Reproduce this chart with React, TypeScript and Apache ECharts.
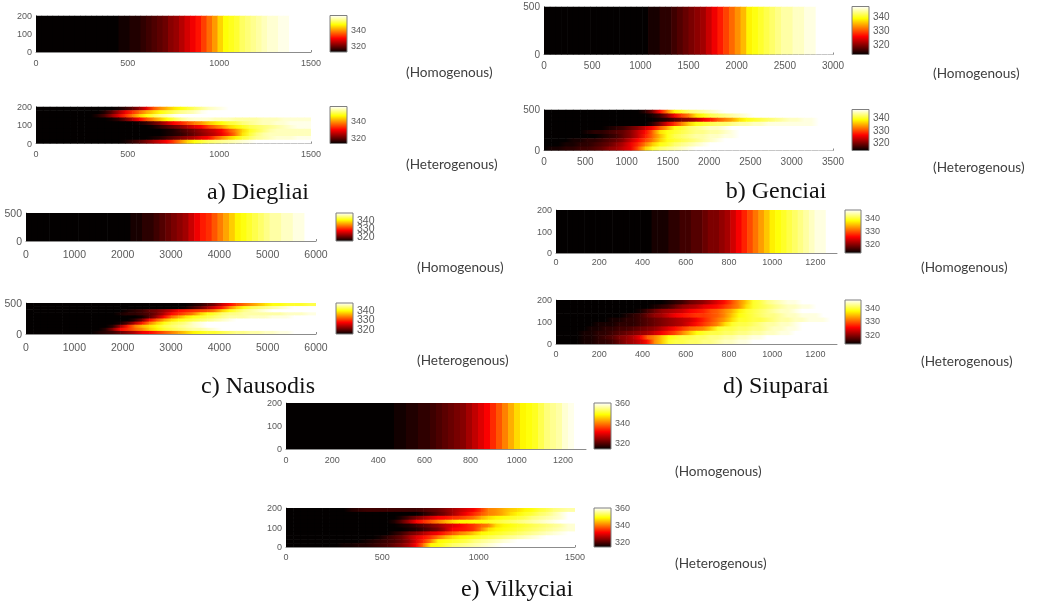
import React, { useEffect, useRef } from "react";
import * as echarts from "echarts";

// ---------- Values (temperatures; rows run top to bottom) ----------
const diegliaiHomogenous = [[313,313,313,313,313,313,313,313,313,313,313,313,313,313,313,314,314,315,315,316,317,318,319,320,322,323,325,327,329,331,334,337,340,344,347,348,349,351,352,353,354,355,356,356,357,357,358,358,358,358]];
const genciaiHomogenous = [[313,313,313,313,313,313,313,313,313,313,313,313,313,313,313,313,313,313,314,314,315,315,316,317,318,319,320,321,323,325,327,329,331,333,335,338,339,340,341,342,343,344,344,345,345,346,346,347,347,347]];
const nausodisHomogenous = [[314,314,314,314,314,314,314,314,314,314,314,314,314,314,314,314,314,314,315,315,316,316,317,318,319,320,321,322,324,326,328,329,331,333,335,337,339,340,341,342,343,344,345,345,346,346,347,347,348,348]];
const siuparaiHomogenous = [[313,313,313,313,313,313,313,313,313,313,313,313,313,313,313,313,313,314,314,314,315,315,316,316,317,317,318,319,319,320,321,323,325,327,329,331,333,335,337,338,339,340,341,342,343,344,345,345,346,346]];
const vilkyciaiHomogenous = [[314,314,314,314,314,314,314,314,314,314,314,314,314,314,314,314,314,314,315,315,316,316,317,317,318,319,320,321,322,323,325,327,329,331,334,337,340,343,346,348,349,350,352,354,355,356,358,359,360,360]];

const diegliaiHeterogenous = [
  [313,313,313,313,313,313,313,313,313,313,313,313,314,316,319,323,328,335,339,342,345,347,349,351,353,355,356,357,358,358,358,358,358,358,358,358,358,358,358,358],
  [313,313,313,313,313,313,313,313,313,313,315,319,324,329,333,337,341,344,347,349,351,353,354,355,357,358,358,358,358,358,358,358,358,358,358,358,358,358,358,358],
  [313,313,313,313,313,313,313,313,313,315,318,323,328,333,338,343,347,350,353,355,357,358,358,358,358,358,358,358,358,358,358,358,358,358,358,358,358,358,358,358],
  [313,313,313,313,313,313,313,313,313,313,313,314,316,320,325,330,335,339,343,347,350,353,355,356,356,356,355,355,355,354,354,354,354,355,355,355,356,356,356,356],
  [313,313,313,313,313,313,313,313,313,313,313,313,313,313,313,314,316,319,322,326,330,332,335,338,340,343,345,347,349,350,352,353,354,355,355,356,356,357,357,357],
  [313,313,313,313,313,313,313,313,313,313,313,313,313,313,313,313,313,314,316,318,320,322,325,328,330,334,337,340,344,346,348,350,351,352,353,354,355,356,357,357],
  [313,313,313,313,313,313,313,313,313,313,313,313,313,313,313,313,313,313,313,314,315,317,319,321,323,325,327,330,335,339,344,348,350,352,354,355,355,355,355,355],
  [313,313,313,313,313,313,313,313,313,313,313,313,313,313,313,313,313,313,313,314,315,316,318,320,322,324,326,329,333,338,345,349,352,354,355,355,355,355,355,355],
  [313,313,313,313,313,313,313,313,313,313,313,313,313,313,313,313,313,314,315,317,319,321,323,325,328,330,335,339,343,346,349,351,353,354,355,356,356,356,357,357],
  [313,313,313,313,313,313,313,313,313,313,313,313,313,314,316,318,321,324,327,330,334,339,344,347,349,351,352,353,354,355,356,357,358,358,358,358,358,358,358,358],
];
const genciaiHeterogenous = [
  [313,313,313,313,313,313,313,313,313,313,313,313,313,313,315,319,326,332,338,340,342,343,344,345,346,347,347,347,347,347,347,347,347,347,347,347,347,347,347,347],
  [313,313,313,313,313,313,313,313,313,313,313,313,313,313,313,314,316,320,325,329,332,337,339,341,342,343,344,345,346,347,347,347,347,347,347,347,347,347,347,347],
  [313,313,313,313,313,313,313,313,313,313,313,313,313,313,313,313,314,315,317,319,320,322,325,327,330,332,334,337,339,340,341,342,343,344,345,345,346,346,347,347],
  [313,313,313,313,313,313,313,313,313,313,313,313,313,313,313,315,319,324,328,332,336,339,340,341,342,342,343,344,344,345,345,346,346,346,346,346,346,346,347,347],
  [313,313,313,313,313,313,313,313,313,314,315,316,318,320,323,326,330,334,339,340,342,343,344,345,345,346,347,347,347,347,347,347,347,347,347,347,347,347,347,347],
  [313,313,313,313,313,313,314,315,315,316,317,318,320,323,326,331,337,339,340,341,342,343,343,344,344,345,346,347,347,347,347,347,347,347,347,347,347,347,347,347],
  [313,313,313,313,313,313,313,313,314,315,316,318,320,323,327,331,335,339,341,342,343,344,344,345,345,346,346,347,347,347,347,347,347,347,347,347,347,347,347,347],
  [313,313,313,313,314,314,315,315,316,317,318,320,323,326,329,332,336,339,340,341,342,343,344,345,346,347,347,347,347,347,347,347,347,347,347,347,347,347,347,347],
  [313,313,313,314,314,315,315,316,317,318,320,322,325,328,332,336,339,340,342,343,344,345,346,347,347,347,347,347,347,347,347,347,347,347,347,347,347,347,347,347],
  [313,314,314,315,315,316,316,317,318,320,321,323,325,330,336,340,342,343,344,345,346,347,347,347,347,347,347,347,347,347,347,347,347,347,347,347,347,347,347,347],
];
const nausodisHeterogenous = [
  [314,314,314,314,314,314,314,314,314,314,314,314,314,314,314,314,314,314,314,314,314,314,314,315,316,318,320,324,327,330,332,334,336,338,340,340,341,341,341,342],
  [314,314,314,314,314,314,314,314,314,314,314,314,314,314,314,314,314,314,314,314,314,314,315,317,319,322,325,328,333,337,340,342,343,344,345,346,347,348,348,348],
  [314,314,314,314,314,314,314,314,314,314,314,314,314,314,315,316,317,319,320,322,324,327,328,329,330,331,333,337,340,342,344,345,346,347,348,348,348,348,348,348],
  [314,314,314,314,314,314,314,314,314,314,314,314,314,315,316,316,317,318,320,323,327,329,331,333,337,340,341,343,344,344,345,345,345,345,345,345,346,346,346,347],
  [314,314,314,314,314,314,314,314,314,314,314,314,314,314,314,314,315,318,322,327,332,335,338,340,341,342,343,344,345,345,345,346,346,346,347,347,347,348,348,348],
  [314,314,314,314,314,314,314,314,314,314,314,314,314,314,314,316,320,327,331,335,338,340,341,342,343,344,345,346,347,348,348,348,348,348,348,348,348,348,348,348],
  [314,314,314,314,314,314,314,314,314,314,314,314,314,315,318,323,328,333,337,340,342,343,344,346,347,348,348,348,348,348,348,348,348,348,348,348,348,348,348,348],
  [314,314,314,314,314,314,314,314,314,314,314,314,316,322,328,333,336,338,340,342,343,344,345,346,347,348,348,348,348,348,348,348,348,348,348,348,348,348,348,348],
  [314,314,314,314,314,314,314,314,314,314,314,316,321,327,329,332,334,337,339,341,342,343,344,345,345,346,347,348,348,348,348,348,348,348,348,348,348,348,348,348],
  [314,314,314,314,314,314,314,314,314,314,315,316,317,319,321,323,326,327,329,331,333,335,337,339,340,341,341,342,343,344,344,345,345,346,346,347,347,348,348,348],
];
const siuparaiHeterogenous = [
  [313,313,313,313,313,313,313,313,313,313,313,313,313,313,313,313,314,315,316,318,319,320,322,324,326,329,332,335,339,340,342,343,344,345,345,346,346,346,346,346],
  [313,313,313,313,313,313,313,313,313,313,313,313,313,313,314,315,316,318,320,321,322,324,325,326,328,330,332,336,339,340,341,342,343,344,344,345,345,346,346,346],
  [313,313,313,313,313,313,313,313,313,313,313,313,314,316,318,320,321,322,323,325,326,327,329,330,332,334,337,339,340,341,342,343,344,344,345,346,346,346,346,346],
  [313,313,313,313,313,313,313,313,313,313,314,315,316,318,320,321,323,325,326,327,328,328,329,330,332,335,338,339,340,341,342,342,343,344,344,345,345,345,346,346],
  [313,313,313,313,313,313,313,313,314,314,315,315,316,317,318,319,320,321,322,323,325,327,329,331,333,336,339,339,340,340,341,342,343,343,344,344,345,345,345,346],
  [313,313,313,313,313,313,314,314,314,315,315,315,316,317,318,319,320,321,322,324,326,328,330,332,336,339,340,340,341,342,343,343,344,344,345,346,346,346,346,346],
  [313,313,313,313,313,314,314,315,315,316,316,317,318,319,320,322,324,326,328,330,331,332,335,339,340,340,341,341,342,342,343,344,344,345,345,346,346,346,346,346],
  [313,313,313,313,314,314,315,315,316,317,318,319,320,321,323,325,327,329,332,335,338,339,340,340,341,341,342,342,343,343,344,344,345,345,346,346,346,346,346,346],
  [313,313,313,313,314,314,315,316,317,319,320,322,325,330,332,335,338,339,340,340,341,341,342,342,343,343,344,344,345,345,346,346,346,346,346,346,346,346,346,346],
  [313,313,313,313,314,314,315,315,316,318,320,321,323,326,332,335,339,340,340,341,341,342,342,343,344,344,345,345,346,346,346,346,346,346,346,346,346,346,346,346],
];
const vilkyciaiHeterogenous = [
  [314,314,314,314,314,314,314,314,314,316,317,318,318,318,318,318,318,318,318,319,320,321,323,325,327,329,331,335,340,341,343,345,346,348,349,351,352,354,355,356],
  [314,314,314,314,314,314,314,314,314,314,314,314,314,314,314,314,314,314,314,316,318,320,322,325,328,331,334,337,340,341,343,346,348,350,351,353,354,356,358,360],
  [314,314,314,314,314,314,314,314,314,314,314,314,314,314,314,314,316,319,322,325,328,331,332,334,335,337,339,343,346,348,349,350,351,352,354,355,356,357,358,360],
  [314,314,314,314,314,314,314,314,314,314,314,314,314,314,314,316,320,325,331,334,337,340,343,346,348,348,349,349,350,351,352,353,354,355,356,357,358,359,360,360],
  [314,314,314,314,314,314,314,314,314,314,314,314,314,314,314,314,315,316,318,320,322,324,327,329,331,333,335,338,340,346,348,349,350,351,352,353,354,355,356,358],
  [314,314,314,314,314,314,314,314,314,314,314,314,314,314,314,314,314,315,316,318,320,322,326,331,332,333,335,340,346,348,349,350,351,352,353,354,355,356,357,358],
  [314,314,314,314,314,314,314,314,314,314,314,314,314,314,314,316,318,321,323,326,329,331,334,337,340,342,345,348,349,350,351,352,353,354,355,356,357,358,359,360],
  [314,314,314,314,314,314,314,314,314,314,314,314,314,315,317,319,321,325,329,332,335,339,343,346,348,349,350,351,352,353,354,355,356,357,358,359,360,360,360,360],
  [314,314,314,314,314,314,314,314,314,314,314,315,316,317,318,319,321,324,329,334,340,348,349,350,351,352,354,355,356,357,358,359,360,360,360,360,360,360,360,360],
  [314,314,314,314,314,314,314,314,315,315,316,316,317,318,319,321,323,326,331,339,348,349,351,353,354,355,356,357,358,359,360,360,360,360,360,360,360,360,360,360],
];

const homogenousLabel = "(Homogenous)";
const heterogenousLabel = "(Heterogenous)";
const sansFont = "Liberation Sans";
const hotStops = [
  { offset: 0, color: "#030000" },
  { offset: 0.375, color: "#ff0000" },
  { offset: 0.75, color: "#ffff00" },
  { offset: 1, color: "#ffffff" },
];

type Panel = {
  rows: number[][]; xMax: number; xTick: number; yMax: number; yTick: number;
  left: number; right: number; top: number; bottom: number; barLeft: number; barRight: number;
  min: number; max: number; barTicks: number[]; size: number; labelGap: number; stepped: boolean; extraBarTicks?: number[];
};

const panels: Panel[] = [
  { rows: diegliaiHomogenous, stepped: true, xMax: 1500, xTick: 500, yMax: 200, yTick: 100, left: 36, right: 311, top: 15.5, bottom: 52, barLeft: 330, barRight: 347, min: 313, max: 358, barTicks: [320, 340], size: 9, labelGap: 6 },
  { rows: diegliaiHeterogenous, stepped: false, xMax: 1500, xTick: 500, yMax: 200, yTick: 100, left: 36, right: 311, top: 106.5, bottom: 143.5, barLeft: 330, barRight: 347, min: 313, max: 358, barTicks: [320, 340], size: 9, labelGap: 6 },
  { rows: genciaiHomogenous, stepped: true, xMax: 3000, xTick: 500, yMax: 500, yTick: 500, left: 544, right: 833, top: 6.5, bottom: 54.5, barLeft: 852, barRight: 869, min: 313, max: 347, barTicks: [320, 330, 340], size: 10, labelGap: 6 },
  { rows: genciaiHeterogenous, stepped: false, xMax: 3500, xTick: 500, yMax: 500, yTick: 500, left: 544, right: 833, top: 109.5, bottom: 150.5, barLeft: 852, barRight: 869, min: 313, max: 347, barTicks: [320, 330, 340], size: 10, labelGap: 6 },
  { rows: nausodisHomogenous, stepped: true, xMax: 6000, xTick: 1000, yMax: 500, yTick: 500, left: 26, right: 316, top: 213, bottom: 241, barLeft: 336, barRight: 353, min: 314, max: 348, barTicks: [320, 340], extraBarTicks: [330], size: 10.5, labelGap: 7 },
  { rows: nausodisHeterogenous, stepped: false, xMax: 6000, xTick: 1000, yMax: 500, yTick: 500, left: 26, right: 316, top: 303, bottom: 334, barLeft: 336, barRight: 353, min: 314, max: 348, barTicks: [320, 340], extraBarTicks: [330], size: 10.5, labelGap: 7 },
  { rows: siuparaiHomogenous, stepped: true, xMax: 1300, xTick: 200, yMax: 200, yTick: 100, left: 556, right: 837, top: 210, bottom: 253, barLeft: 845, barRight: 861, min: 313, max: 346, barTicks: [320, 330, 340], size: 9, labelGap: 4 },
  { rows: siuparaiHeterogenous, stepped: false, xMax: 1300, xTick: 200, yMax: 200, yTick: 100, left: 556, right: 837, top: 300, bottom: 344, barLeft: 845, barRight: 861, min: 313, max: 346, barTicks: [320, 330, 340], size: 9, labelGap: 5 },
  { rows: vilkyciaiHomogenous, stepped: true, xMax: 1300, xTick: 200, yMax: 200, yTick: 100, left: 286, right: 586, top: 403, bottom: 449, barLeft: 594, barRight: 611, min: 314, max: 360, barTicks: [320, 340, 360], size: 9, labelGap: 6 },
  { rows: vilkyciaiHeterogenous, stepped: false, xMax: 1500, xTick: 500, yMax: 200, yTick: 100, left: 286, right: 575, top: 508, bottom: 547, barLeft: 594, barRight: 611, min: 314, max: 360, barTicks: [320, 340, 360], size: 9, labelGap: 5 },
];

const noteLabels: [string, number, number][] = [
  [homogenousLabel, 406, 72], [heterogenousLabel, 406, 164],
  [homogenousLabel, 933, 73], [heterogenousLabel, 933, 167],
  [homogenousLabel, 417, 267], [heterogenousLabel, 417, 360],
  [homogenousLabel, 921, 267], [heterogenousLabel, 921, 361],
  [homogenousLabel, 675, 471], [heterogenousLabel, 675, 563],
];
const captions: [string, number, number][] = [
  ["a) Diegliai", 258, 191], ["b) Genciai", 776, 190], ["c) Nausodis", 258, 385],
  ["d) Siuparai", 776, 385], ["e) Vilkyciai", 517, 588],
];

function hot(value: number, min: number, max: number) {
  const t = Math.max(0, Math.min(1, (value - min) / (max - min)));
  const r = t < 0.375 ? 3 + (252 * t) / 0.375 : 255;
  const g = t < 0.375 ? 0 : t < 0.75 ? (255 * (t - 0.375)) / 0.375 : 255;
  const b = t < 0.75 ? 0 : (255 * (t - 0.75)) / 0.25;
  return `rgb(${Math.round(r)},${Math.round(g)},${Math.round(b)})`;
}

const plainNumber = (v: number) => String(v);

function buildOption() {
  const grid: any[] = [], xAxis: any[] = [], yAxis: any[] = [], series: any[] = [];
  const axisGray = "#8c8c8c";
  const textGray = "#5a5a5a";
  const barAxis = (p: Panel, bar: number, ticks: number[]) => ({
    gridIndex: bar, type: "value", position: "right", min: p.min, max: p.max, splitLine: { show: false },
    axisLine: { show: false }, axisTick: { show: false },
    axisLabel: { color: textGray, fontFamily: sansFont, fontSize: p.size, margin: 4, customValues: ticks, interval: 0, hideOverlap: false, showMinLabel: true, showMaxLabel: true, formatter: plainNumber },
  });
  panels.forEach((p, i) => {
    const plot = i * 2, bar = i * 2 + 1;
    grid.push({ left: p.left, top: p.top, width: p.right - p.left, height: p.bottom - p.top, show: false });
    xAxis.push({
      gridIndex: plot, type: "value", min: 0, max: p.xMax, interval: p.xTick, splitLine: { show: false },
      axisLine: { lineStyle: { color: axisGray } },
      axisTick: { show: true, inside: true, length: 2, customValues: [p.xMax], lineStyle: { color: axisGray } },
      axisLabel: { color: textGray, fontFamily: sansFont, fontSize: p.size, margin: p.labelGap, formatter: plainNumber, showMaxLabel: p.xMax % p.xTick === 0, hideOverlap: false },
    });
    yAxis.push({
      gridIndex: plot, type: "value", min: 0, max: p.yMax, interval: p.yTick, splitLine: { show: false },
      axisLine: { show: true, lineStyle: { color: axisGray } }, axisTick: { show: false },
      axisLabel: { color: textGray, fontFamily: sansFont, fontSize: p.size, margin: 4, formatter: plainNumber },
    });
    const cols = p.rows[0].length;
    const dx = p.xMax / cols, dy = p.yMax / p.rows.length;
    const cells: number[][] = [];
    p.rows.forEach((row, r) => row.forEach((v, c) => {
      const next = p.stepped || c === cols - 1 ? v : row[c + 1];
      cells.push([c * dx, (c + 1) * dx, p.yMax - (r + 1) * dy, p.yMax - r * dy, v, next]);
    }));
    series.push({
      type: "custom", xAxisIndex: plot, yAxisIndex: plot, coordinateSystem: "cartesian2d", silent: true, clip: true,
      encode: { x: [0, 1], y: [2, 3] }, data: cells, z: 1,
      renderItem: (_: any, api: any) => {
        const a = api.coord([api.value(0), api.value(3)]);
        const b = api.coord([api.value(1), api.value(2)]);
        const from = hot(api.value(4), p.min, p.max), to = hot(api.value(5), p.min, p.max);
        const fill = from === to ? from : new echarts.graphic.LinearGradient(0, 0, 1, 0, [{ offset: 0, color: from }, { offset: 1, color: to }]);
        return { type: "rect", shape: { x: a[0], y: a[1], width: b[0] - a[0] + 0.6, height: b[1] - a[1] + 0.6 }, style: { fill } };
      },
    });

    grid.push({ left: p.barLeft, top: p.top, width: p.barRight - p.barLeft, height: p.bottom - p.top, show: true, borderColor: "#7f7f7f", borderWidth: 1, backgroundColor: "transparent", z: 3 });
    xAxis.push({ gridIndex: bar, type: "value", min: 0, max: 1, show: false });
    yAxis.push(barAxis(p, bar, p.barTicks));
    series.push({
      type: "custom", xAxisIndex: bar, yAxisIndex: bar, coordinateSystem: "cartesian2d", silent: true,
      encode: { x: [0, 1], y: [2, 3] }, data: [[0, 1, p.min, p.max]], z: 1,
      renderItem: (_: any, api: any) => {
        const a = api.coord([api.value(0), api.value(3)]);
        const b = api.coord([api.value(1), api.value(2)]);
        return { type: "rect", shape: { x: a[0], y: a[1], width: b[0] - a[0], height: b[1] - a[1] }, style: { fill: new echarts.graphic.LinearGradient(0, 1, 0, 0, hotStops) } };
      },
    });
  });
  // The reference's tightly packed colour-bar labels overlap, which one axis would cull: the middle label gets its own axis.
  panels.forEach((p, i) => {
    if (p.extraBarTicks) yAxis.push(barAxis(p, i * 2 + 1, p.extraBarTicks));
  });

  const graphic = [
    ...noteLabels.map(([text, x, y]) => ({
      type: "text", x, y, style: { text, fontFamily: "Lato", fontSize: 13.6, fill: "#404040", textVerticalAlign: "middle", textAlign: "left" },
    })),
    ...captions.map(([text, x, y]) => ({
      type: "text", x, y, style: { text, fontFamily: "Liberation Serif", fontSize: 24, fill: "#111111", textVerticalAlign: "middle", textAlign: "center" },
    })),
  ];
  return { animation: false, backgroundColor: "#ffffff", grid, xAxis, yAxis, series, graphic };
}

export default function App() {
  const ref = useRef<HTMLDivElement>(null);
  useEffect(() => {
    const chart = echarts.init(ref.current!, undefined, { renderer: "svg" });
    chart.setOption(buildOption() as any);
    return () => chart.dispose();
  }, []);
  return <div ref={ref} style={{ position: "absolute", left: 0, top: 0, width: 1043, height: 602, filter: "blur(0.7px)" }} />;
}
